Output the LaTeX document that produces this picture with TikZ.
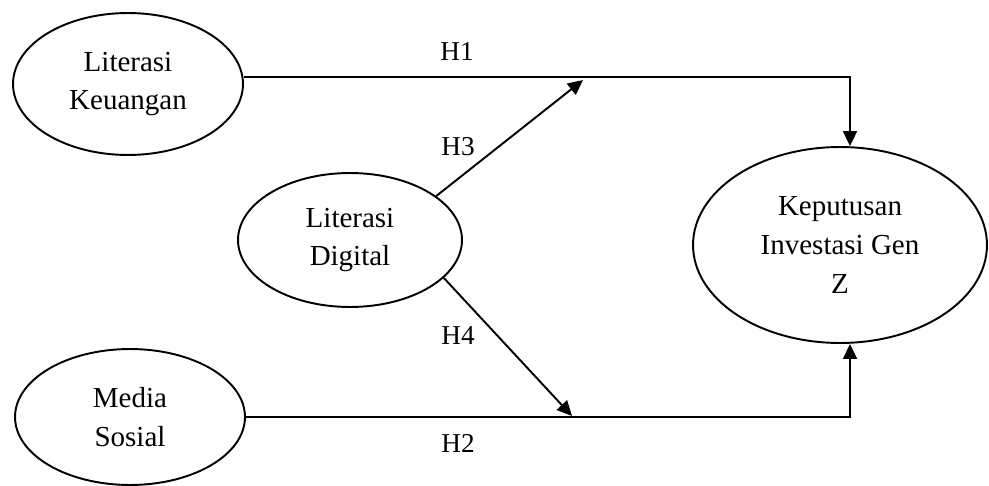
\documentclass[tikz,border=0pt]{standalone}
\usepackage{fontspec}
\setmainfont{Liberation Serif}
\usepackage{tikz}
\usetikzlibrary{arrows.meta,shapes.geometric}
\tikzset{
  var/.style={ellipse,draw=black,line width=1.1pt,inner sep=0pt,align=center,
    font=\fontsize{16.5}{22}\selectfont},
  link/.style={line width=1.1pt,draw=black},
  arrow/.style={link,-{Triangle[length=3mm,width=2.8mm]}},
  hyp/.style={inner sep=0pt,font=\fontsize{15.5}{18}\selectfont}
}

\begin{document}
\begin{tikzpicture}[x=0.02cm,y=-0.02cm]
\useasboundingbox (0,0) rectangle (989,486);
% variables
\node[var,minimum width=4.6cm,minimum height=2.84cm] (keu) at (128,84) {Literasi\\Keuangan};
\node[var,minimum width=4.48cm,minimum height=2.68cm] (dig) at (350,240) {Literasi\\Digital};
\node[var,minimum width=4.6cm,minimum height=2.72cm] (sos) at (130,417) {Media\\Sosial};
\node[var,minimum width=5.88cm,minimum height=3.92cm] (kep) at (840,245) {Keputusan\\Investasi Gen\\Z};
% bends and arrow tips
\coordinate (c1) at (850,77);
\coordinate (c2) at (850,417);
\coordinate (h3tip) at (583,80);
\coordinate (h4tip) at (572,416);
% paths
\draw[arrow] (keu.east |- c1) -- (c1) -- (c1 |- kep.north);
\draw[arrow] (sos.east) -- (c2) -- (c2 |- kep.south);
\draw[arrow] (dig.27) -- (h3tip);
\draw[arrow] (dig.-22) -- (h4tip);
% labels
\node[hyp] (h1) at (457,52) {H1};
\node[hyp] (h3) at (458,147) {H3};
\node[hyp] (h4) at (458,336) {H4};
\node[hyp] (h2) at (458,443) {H2};
\end{tikzpicture}
\end{document}
